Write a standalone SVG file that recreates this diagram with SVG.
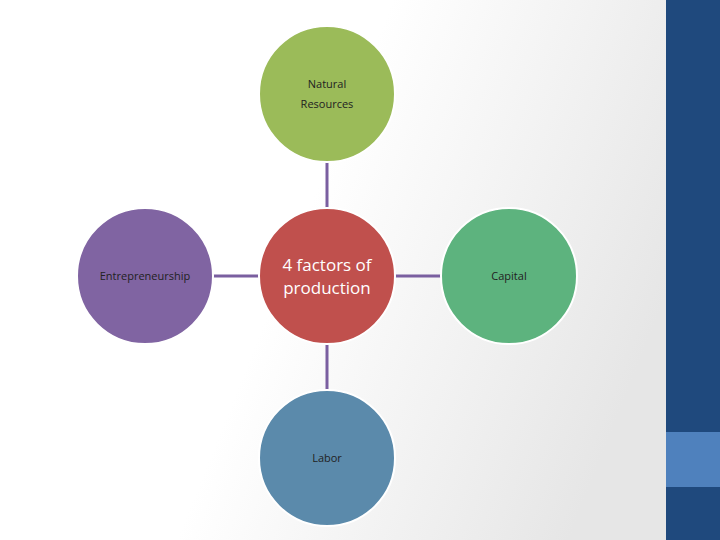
<svg xmlns="http://www.w3.org/2000/svg" width="720" height="540" viewBox="0 0 720 540">
<defs>
<linearGradient id="bg" x1="0" y1="0" x2="1" y2="0.3">
<stop offset="0.5" stop-color="#ffffff"/><stop offset="1" stop-color="#e6e6e6"/>
</linearGradient>
<style>
.c{stroke:#ffffff;stroke-width:2}
.t{font-family:"Open Sans","Liberation Sans",sans-serif;font-size:11px;fill:#222;text-anchor:middle}
.conn line{stroke:#7a5fa0;stroke-width:3}
</style>
</defs>
<rect width="720" height="540" fill="url(#bg)"/>
<rect x="666" y="0" width="54" height="540" fill="#1f497d"/>
<rect x="666" y="432" width="54" height="55" fill="#4f81bd"/>
<g class="conn">
<line x1="327" y1="162" x2="327" y2="208"/>
<line x1="327" y1="344" x2="327" y2="390"/>
<line x1="213" y1="276" x2="259" y2="276"/>
<line x1="395" y1="276" x2="441" y2="276"/>
</g>
<g id="natural"><circle class="c" cx="327" cy="94" r="68" fill="#9bbb59"/><text class="t" x="327" y="88">Natural</text><text class="t" x="327" y="108">Resources</text></g>
<g id="center"><circle class="c" cx="327" cy="276" r="68" fill="#c0504d"/><text class="t" x="327" y="271" style="font-size:17px;fill:#fff">4 factors of</text><text class="t" x="327" y="294" style="font-size:17px;fill:#fff">production</text></g>
<g id="labor"><circle class="c" cx="327" cy="458" r="68" fill="#5b8aab"/><text class="t" x="327" y="462">Labor</text></g>
<g id="entre"><circle class="c" cx="145" cy="276" r="68" fill="#8064a2"/><text class="t" x="145" y="280">Entrepreneurship</text></g>
<g id="capital"><circle class="c" cx="509" cy="276" r="68" fill="#5db37e"/><text class="t" x="509" y="280">Capital</text></g>
</svg>
